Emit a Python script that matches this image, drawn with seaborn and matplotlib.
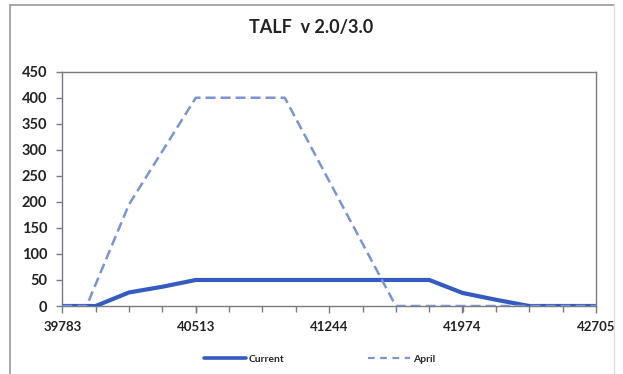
import numpy as np
import pandas as pd
import matplotlib
matplotlib.use("Agg")
import matplotlib.pyplot as plt
import seaborn as sns
from matplotlib.lines import Line2D
from matplotlib.ticker import FixedLocator

# ---- data ----
current_x = [39783, 39966, 40148, 40331, 40514, 40696, 40879, 41061, 41244,
             41427, 41609, 41792, 41975, 42157, 42340, 42522, 42705]
current_y = [0, 0, 26, 37, 50, 50, 50, 50, 50, 50, 50, 50, 25, 12, 0, 0, 0]
april_x = [39783, 39916, 40148, 40514, 41001, 41609, 41975, 42340, 42705]
april_y = [0, 0, 195, 400, 400, 0, 0, 0, 0]
series_names = ["Current", "April"]
x_ticks = [39783, 40513, 41244, 41974, 42705]
y_ticks = [0, 50, 100, 150, 200, 250, 300, 350, 400, 450]
title = "TALF  v 2.0/3.0"

df = pd.concat([
    pd.DataFrame({"x": current_x, "y": current_y, "series": series_names[0]}),
    pd.DataFrame({"x": april_x, "y": april_y, "series": series_names[1]}),
], ignore_index=True)

sns.set_theme(style="white")
plt.rcParams["font.family"] = ["Lato", "DejaVu Sans"]

fig = plt.figure(figsize=(6.23, 3.74), dpi=100)
ax = fig.add_axes([62.3 / 623, 1 - 306 / 374, (596 - 62.3) / 623, (306 - 71.7) / 374])

palette = {"Current": "#345BC0", "April": "#7B95D0"}
sns.lineplot(data=df, x="x", y="y", hue="series", style="series",
             palette=palette, dashes={"Current": "", "April": (4, 2)},
             ax=ax, legend=False, sort=False)
for line in ax.get_lines():
    if line.get_color().lower() == "#345bc0":
        line.set_linewidth(3.0)
        line.set_zorder(3)
        line.set_solid_joinstyle("round")
    else:
        line.set_linewidth(1.8)
        line.set_zorder(4)

ax.set_xlim(x_ticks[0], x_ticks[-1])
ax.set_ylim(0, 450)
ax.set_xticks(x_ticks)
ax.set_xticklabels([str(t) for t in x_ticks])
ax.xaxis.set_minor_locator(FixedLocator(np.linspace(x_ticks[0], x_ticks[-1], 17)))
ax.set_yticks(y_ticks)
ax.set_xlabel("")
ax.set_ylabel("")

for s in ax.spines.values():
    s.set_visible(True)
    s.set_color("#7a7a80")
    s.set_linewidth(1.0)

ax.tick_params(axis="x", which="major", direction="out", length=5, width=1,
               color="#7a7a80", labelsize=9.5, pad=6, bottom=True)
ax.tick_params(axis="x", which="minor", direction="out", length=4, width=1,
               color="#7a7a80", bottom=True)
ax.tick_params(axis="y", which="major", direction="out", length=4, width=1,
               color="#7a7a80", labelsize=10.5, pad=7, left=True)
for lab in ax.get_xticklabels() + ax.get_yticklabels():
    lab.set_fontweight("bold")
    lab.set_color("#222222")

fig.text(0.5, 1 - 28 / 374, title, ha="center", va="center",
         fontsize=13, fontweight="bold", color="#222222")

# legend
handles = [Line2D([], [], color=palette["Current"], lw=2.6),
           Line2D([], [], color=palette["April"], lw=1.6, dashes=(3, 2.5))]
fig.legend(handles, series_names, loc="center", bbox_to_anchor=(0.513, 1 - 359 / 374),
           ncol=2, frameon=False, handlelength=4.0,
           columnspacing=8.0, handletextpad=0.3, prop={"weight": "bold", "size": 7.5})

# outer chart border
bc = "#9a9a9a"
fig.add_artist(Line2D([10 / 623, 10 / 623], [0, 1 - 5 / 374], transform=fig.transFigure, color=bc, lw=1.2))
fig.add_artist(Line2D([10 / 623, 614 / 623], [1 - 5 / 374, 1 - 5 / 374], transform=fig.transFigure, color=bc, lw=1.2))
fig.add_artist(Line2D([614 / 623, 614 / 623], [0, 1 - 5 / 374], transform=fig.transFigure, color="#dddddd", lw=1.0))

fig.savefig("out.png", dpi=100, facecolor="white")
